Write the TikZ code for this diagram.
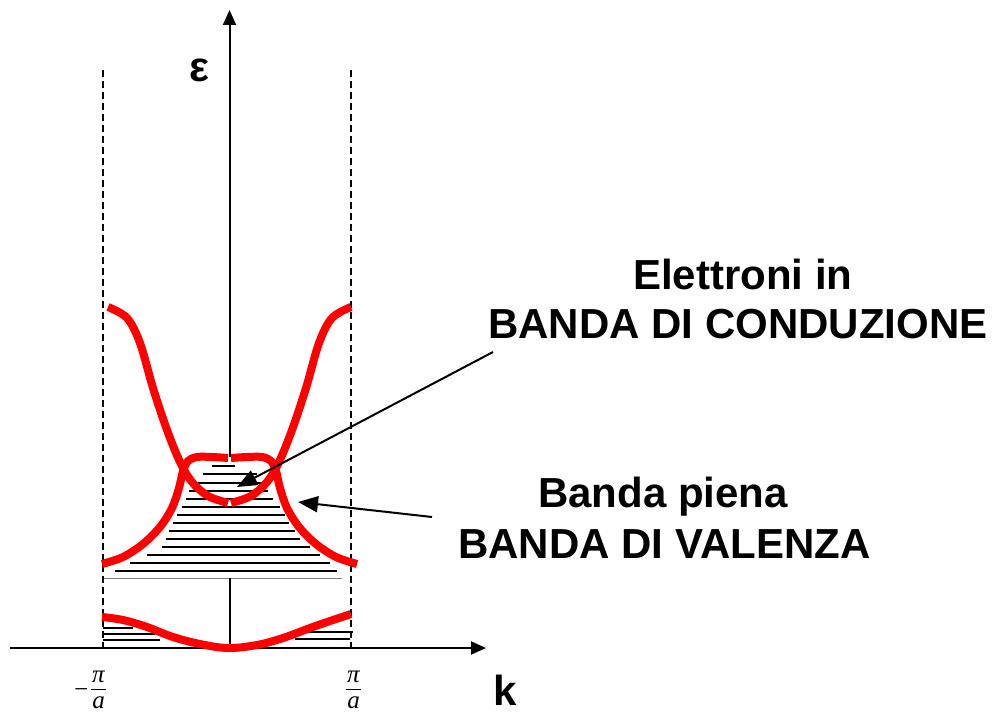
\documentclass[tikz,border=0pt]{standalone}
\usepackage{fontspec}
\setmainfont{Liberation Sans}
\newfontfamily\tnr{Liberation Serif}
\usetikzlibrary{arrows.meta}
\begin{document}
\begin{tikzpicture}[x=1pt,y=-1pt,
  band/.style={draw=red, line width=8pt, line join=round},
  hatch/.style={draw=black, line width=2.4pt},
  axis/.style={draw=black, line width=2pt},
  zone/.style={draw=black, line width=1.4pt, dash pattern=on 7pt off 4pt},
  lbl/.style={inner sep=0pt, anchor=base west, font=\fontsize{42}{48}\selectfont\bfseries},
  pointer/.style={draw=black, line width=2pt, -{Triangle[length=20pt,width=16pt]}},
  axtip/.style={-{Triangle[length=15pt,width=13pt]}},
  fracfont/.style={inner sep=0pt, anchor=base, font=\fontsize{25}{28}\selectfont\tnr\itshape}
]
\useasboundingbox (0,0) rectangle (993,714);

% hatching of filled bands
\foreach \y/\a/\b in {466/212/235, 474/203/257, 483/197/263, 491/189/268, 499/186/273,
  507/182/280, 515/177/285, 523/173/289, 531/169/295, 539/166/300, 547/162/310,
  555/147/320, 563/130/330, 571/115/337}
  \draw[hatch] (\a,\y) -- (\b,\y);
\foreach \y/\a/\b in {628/103/133, 634/103/155, 640/103/160, 632/307/353, 639/295/350}
  \draw[hatch] (\a,\y) -- (\b,\y);
\draw[gray, line width=1pt] (103,578) -- (342,578);

% zone boundaries
\coordinate (zl1) at (103,70); \coordinate (zl2) at (103,648);
\coordinate (zr1) at (351,70); \coordinate (zr2) at (351,648);
\draw[zone] (zl1) -- (zl2);
\draw[zone] (zr1) -- (zr2);

% axes
\coordinate (kx0) at (10,648); \coordinate (kx) at (486,648);
\coordinate (ey0) at (229.5,457); \coordinate (ey) at (229.5,10);
\coordinate (eyb) at (229.5,578); \coordinate (O) at (229.5,648);
\draw[axis,axtip] (kx0) -- (kx);
\draw[axis,axtip] (ey0) -- (ey);
\draw[axis] (eyb) -- (O);

% bands
\draw[band] plot[smooth, tension=0.55] coordinates {(108,307) (127,318) (140,343) (153,388) (167,430) (180,462) (192,482) (208,496) (228,503)};
\draw[band] plot[smooth, tension=0.55] coordinates {(351,307) (332,318) (319,343) (306,388) (292,430) (279,462) (267,482) (251,496) (231,503)};
\draw[band] plot[smooth, tension=0.55] coordinates {(102,564) (123,557) (143,544) (160,527) (172,508) (179,488) (183,471) (188,461) (197,457) (212,457) (228,458)};
\draw[band] plot[smooth, tension=0.55] coordinates {(357,564) (336,557) (316,544) (299,527) (287,508) (280,488) (276,471) (271,461) (262,457) (247,457) (231,458)};
\draw[band] plot[smooth, tension=0.6] coordinates {(102,617) (123,620) (147,627) (173,637) (200,644) (228,648) (257,645) (283,638) (310,628) (333,620) (351,614)};

% labels
\node[lbl] (eps) at (189,82) {ε};
\node[lbl] (klab) at (493,705) {k};
\node[lbl] (el1) at (633,289) {Elettroni in};
\node[lbl] (el2) at (488,338) {BANDA DI CONDUZIONE};
\node[lbl] (vl1) at (538,507) {Banda piena};
\node[lbl] (vl2) at (458,558) {BANDA DI VALENZA};

% pointers
\coordinate (p1s) at (493,352); \coordinate (p1e) at (237,487);
\coordinate (p2s) at (432,517); \coordinate (p2e) at (298,502);
\draw[pointer] (p1s) -- (p1e);
\draw[pointer] (p2s) -- (p2e);

% -pi/a and pi/a
\node[fracfont] (mneg) at (81,697) {−};
\node[fracfont] (lpi) at (98.5,682) {π};
\node[fracfont] (la) at (98.5,708) {a};
\coordinate (lb1) at (91,689); \coordinate (lb2) at (106,689);
\draw[line width=1pt] (lb1) -- (lb2);
\node[fracfont] (rpi) at (353.5,682) {π};
\node[fracfont] (ra) at (353.5,708) {a};
\coordinate (rb1) at (346,689); \coordinate (rb2) at (361,689);
\draw[line width=1pt] (rb1) -- (rb2);
\end{tikzpicture}
\end{document}
